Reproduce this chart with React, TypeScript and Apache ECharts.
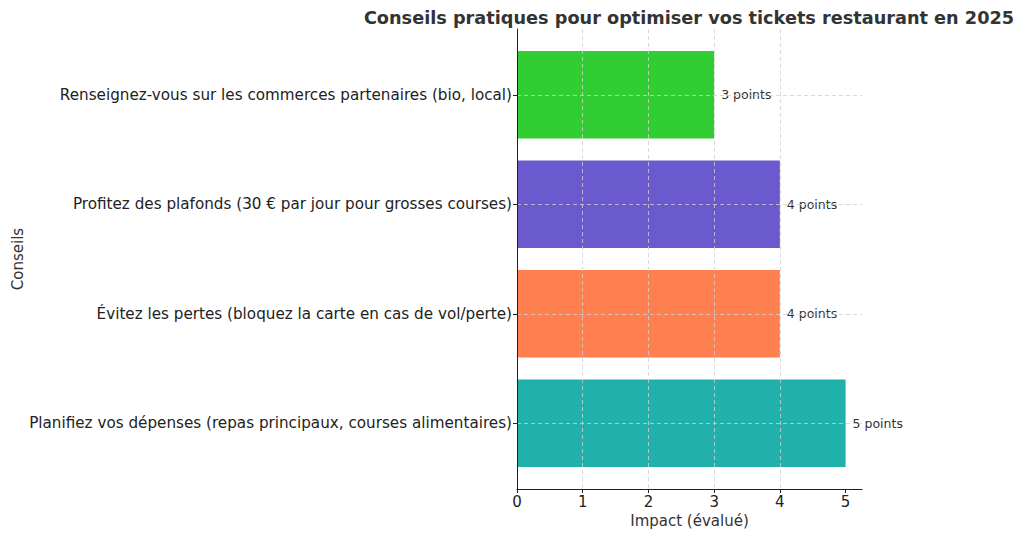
import React, { useEffect, useRef } from "react";
import * as echarts from "echarts";

const categories = [
  "Planifiez vos dépenses (repas principaux, courses alimentaires)",
  "Évitez les pertes (bloquez la carte en cas de vol/perte)",
  "Profitez des plafonds (30 € par jour pour grosses courses)",
  "Renseignez-vous sur les commerces partenaires (bio, local)",
];
const impactValues = [5, 4, 4, 3];
const barColors = ["#20B2AA", "#FF7F50", "#6A5ACD", "#32CD32"];
const xTicks = [0, 1, 2, 3, 4, 5];

const FONT = "DejaVu Sans";
const GRID_LINE = { color: "#d0d0d0", type: [4, 3], width: 0.8 };

export default function App() {
  const ref = useRef<HTMLDivElement>(null);
  useEffect(() => {
    const chart = echarts.init(ref.current!, null, { renderer: "svg" });
    chart.setOption({
      animation: false,
      textStyle: { fontFamily: FONT },
      title: {
        text: "Conseils pratiques pour optimiser vos tickets restaurant en 2025",
        left: 684,
        top: 4,
        textAlign: "center",
        textStyle: { fontFamily: FONT, fontSize: 17.7, fontWeight: "bold", color: "#333" },
      },
      grid: [
        { left: 517, right: 162, top: 29, bottom: 49, containLabel: false },
        { left: 517, right: 162, top: 40, bottom: 60, containLabel: false },
      ],
      xAxis: [
        {
          gridIndex: 0,
          type: "value",
          min: 0,
          max: 5.25,
          interval: 1,
          z: 5,
          name: "Impact (évalué)",
          nameLocation: "middle",
          nameGap: 23,
          nameTextStyle: { fontFamily: FONT, fontSize: 15, color: "#333" },
          axisLine: { show: true, lineStyle: { color: "#222", width: 1 } },
          axisTick: { show: true, length: 4, lineStyle: { color: "#222" }, customValues: xTicks },
          axisLabel: { fontFamily: FONT, fontSize: 15, color: "#222", margin: 5, customValues: xTicks },
          splitLine: { show: true, showMinLine: false, showMaxLine: false, lineStyle: GRID_LINE },
        },
        {
          gridIndex: 1,
          type: "value",
          min: 0,
          max: 5.25,
          show: false,
          splitLine: { show: false },
        },
      ],
      yAxis: [
        {
          gridIndex: 0,
          type: "value",
          min: 0,
          max: 1,
          z: 6,
          name: "Conseils",
          nameLocation: "middle",
          nameGap: 492,
          nameTextStyle: { fontFamily: FONT, fontSize: 15, color: "#333" },
          axisLine: { show: true, lineStyle: { color: "#222", width: 1 } },
          axisTick: { show: false },
          axisLabel: { show: false },
          splitLine: { show: false },
        },
        {
          gridIndex: 1,
          type: "category",
          data: categories,
          axisLine: { show: false },
          axisTick: { show: true, alignWithLabel: true, length: 4, lineStyle: { color: "#222" } },
          axisLabel: { fontFamily: FONT, fontSize: 15.2, color: "#222", margin: 5 },
          splitLine: { show: false },
        },
      ],
      series: [
        {
          type: "bar",
          xAxisIndex: 1,
          yAxisIndex: 1,
          barWidth: "80%",
          data: impactValues.map((v, i) => ({ value: v, itemStyle: { color: barColors[i] } })),
          label: {
            show: true,
            position: "right",
            distance: 7,
            formatter: "{c} points",
            fontFamily: FONT,
            fontSize: 12.5,
            color: "#333",
          },
          markLine: {
            silent: true,
            symbol: ["none", "none"],
            label: { show: false },
            lineStyle: GRID_LINE,
            data: categories.map((c) => ({ yAxis: c })),
          },
        },
      ],
    });
    return () => chart.dispose();
  }, []);
  return (
    <div
      ref={ref}
      style={{ position: "absolute", left: 0, top: 0, width: 1024, height: 538, background: "#fff" }}
    />
  );
}
